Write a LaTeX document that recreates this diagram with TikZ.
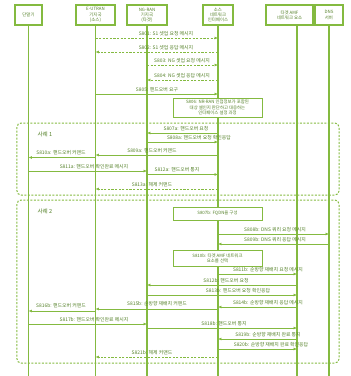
\documentclass[tikz,border=0pt]{standalone}
\usepackage{fontspec}
\setmainfont{Noto Sans CJK KR}
\usetikzlibrary{arrows.meta,positioning}
\definecolor{lgreen}{RGB}{132,186,64}
\definecolor{tgreen}{RGB}{84,128,40}

\begin{document}
\begin{tikzpicture}[
    x=1pt, y=-1pt,
    font=\fontsize{4.4}{5.2}\selectfont,
    >={Latex[length=3.4pt,width=3pt]},
    actor/.style={rectangle, draw=lgreen, fill=white, text=tgreen, line width=1.1pt, align=center, inner sep=0.5pt, minimum height=20pt},
    life/.style={draw=lgreen, line width=1.3pt},
    msg/.style={->, draw=lgreen, line width=0.9pt},
    reply/.style={msg, dash pattern=on 2.2pt off 1.4pt},
    lbl/.style={text=tgreen, inner sep=0.4pt, anchor=south, font=\fontsize{4.9}{5.5}\selectfont},
    note/.style={rectangle, draw=lgreen, fill=white, text=tgreen, line width=1pt, align=center, minimum width=89pt, inner sep=1pt},
    group/.style={draw=lgreen, line width=1pt, dash pattern=on 2pt off 1.5pt, rounded corners=4pt},
    case/.style={text=tgreen, font=\fontsize{5.6}{6}\selectfont, anchor=west}
]
\useasboundingbox (0,0) rectangle (351,376);

% Participants (y = 15)
\node[actor, minimum width=27pt] (ue) at (28.5, 15) {단말기};
\node[actor, minimum width=39pt] (enb) at (95.5, 15) {E-UTRAN\\기지국\\(소스)};
\node[actor, minimum width=40pt] (gnb) at (147, 15) {NG-RAN\\기지국\\(타겟)};
\node[actor, minimum width=30pt] (core) at (218, 15) {소스\\네트워크\\인터페이스};
\node[actor, minimum width=47pt] (amf) at (289.5, 15) {타겟 AMF\\네트워크 요소};
\node[actor, minimum width=28pt] (dns) at (329, 15) {DNS\\서버};
\coordinate (amfx) at (297, 25);

% Lifelines
\draw[life] (ue.south) -- (ue.south |- 0,376);
\draw[life] (enb.south) -- (enb.south |- 0,376);
\draw[life] (gnb.south) -- (gnb.south |- 0,376);
\draw[life] (core.south) -- (core.south |- 0,376);
\draw[life] (amfx) -- (amfx |- 0,376);
\draw[life] (dns.south) -- (dns.south |- 0,376);

% Setup and handover required
\draw[reply] (enb |- 0,38) -- (core |- 0,38);
\node[lbl] (l801) at (166, 36) {S801: S1 셋업 요청 메시지};
\draw[reply] (core |- 0,52) -- (enb |- 0,52);
\node[lbl] (l802) at (166, 50) {S802: S1 셋업 응답 메시지};
\draw[reply] (gnb |- 0,65) -- (core |- 0,65);
\node[lbl] (l803) at (182, 63) {S803: NG 셋업 요청 메시지};
\draw[reply] (core |- 0,80) -- (gnb |- 0,80);
\node[lbl] (l804) at (182, 78) {S804: NG 셋업 응답 메시지};
\draw[msg] (enb |- 0,94) -- (core |- 0,94);
\node[lbl] (l805) at (157, 92) {S805: 핸드오버 요구};
\node[note, minimum height=19pt] (n806) at (217.5, 107.5) {S806: NR-RAN 인접정보가 포함된\\대상 셀인지 판단하고 대응하는\\인터페이스 설정 과정};

% Case 1
\draw[group] (17,123) rectangle (339,195);
\node[case] (case1) at (34, 134) {사례 1};
\draw[msg] (core |- 0,133) -- (gnb |- 0,133);
\node[lbl] (l807a) at (186, 131) {S807a: 핸드오버 요청};
\draw[msg] (gnb |- 0,142) -- (core |- 0,142);
\node[lbl] (l808a) at (199, 140) {S808a: 핸드오버 요청 확인응답};
\draw[msg] (core |- 0,155) -- (enb |- 0,155);
\node[lbl] (l809a) at (152, 153) {S809a: 핸드오버 커맨드};
\draw[msg] (enb |- 0,157.5) -- (ue |- 0,157.5);
\node[lbl] (l810a) at (61, 155.5) {S810a: 핸드오버 커맨드};
\draw[msg] (ue |- 0,171) -- (gnb |- 0,171);
\node[lbl] (l811a) at (94, 169) {S811a: 핸드오버 확인완료 메시지};
\draw[msg] (gnb |- 0,174.5) -- (core |- 0,174.5);
\node[lbl] (l812a) at (177, 172.5) {S812a: 핸드오버 통지};
\draw[reply] (core |- 0,189) -- (enb |- 0,189);
\node[lbl] (l813a) at (152, 187) {S813a: 해제 커맨드};

% Case 2
\draw[group] (17,200) rectangle (339,363);
\node[case] (case2) at (34, 211) {사례 2};
\node[note, minimum height=13pt] (n807b) at (217.5, 213.5) {S807b: FQDN을 구성};
\draw[msg] (core |- 0,234) -- (dns |- 0,234);
\node[lbl] (l808b) at (275, 232) {S808b: DNS 쿼리 요청 메시지};
\draw[msg] (dns |- 0,244) -- (core |- 0,244);
\node[lbl] (l809b) at (275, 242) {S809b: DNS 쿼리 응답 메시지};
\node[note, minimum height=16pt] (n810b) at (217.5, 258) {S810b: 타겟 AMF 네트워크\\요소를 선택};
\draw[msg] (core |- 0,274) -- (amfx |- 0,274);
\node[lbl] (l811b) at (268, 272) {S811b: 순방향 재배치 요청 메시지};
\draw[msg] (amfx |- 0,285) -- (gnb |- 0,285);
\node[lbl] (l812b) at (226, 283) {S812b: 핸드오버 요청};
\draw[msg] (gnb |- 0,295) -- (amfx |- 0,295);
\node[lbl] (l813b) at (238, 293) {S813b: 핸드오버 요청 확인응답};
\draw[msg] (amfx |- 0,307) -- (core |- 0,307);
\node[lbl] (l814b) at (268, 305) {S814b: 순방향 재배치 응답 메시지};
\draw[msg] (core |- 0,309) -- (enb |- 0,309);
\node[lbl] (l815b) at (157, 306.5) {S815b: 순방향 재배치 커맨드};
\draw[msg] (enb |- 0,311) -- (ue |- 0,311);
\node[lbl] (l816b) at (61, 308.5) {S816b: 핸드오버 커맨드};
\draw[msg] (ue |- 0,324) -- (gnb |- 0,324);
\node[lbl] (l817b) at (94, 322) {S817b: 핸드오버 확인완료 메시지};
\draw[msg] (gnb |- 0,328) -- (amfx |- 0,328);
\node[lbl] (l818b) at (224, 326) {S818b: 핸드오버 통지};
\draw[msg] (amfx |- 0,339) -- (core |- 0,339);
\node[lbl] (l819b) at (268, 337) {S819b: 순방향 재배치 완료 통지};
\draw[msg] (core |- 0,349) -- (amfx |- 0,349);
\node[lbl] (l820b) at (271, 347) {S820b: 순방향 재배치 완료 확인응답};
\draw[reply] (core |- 0,357) -- (enb |- 0,357);
\node[lbl] (l821b) at (152, 355) {S821b: 해제 커맨드};

\end{tikzpicture}
\end{document}
